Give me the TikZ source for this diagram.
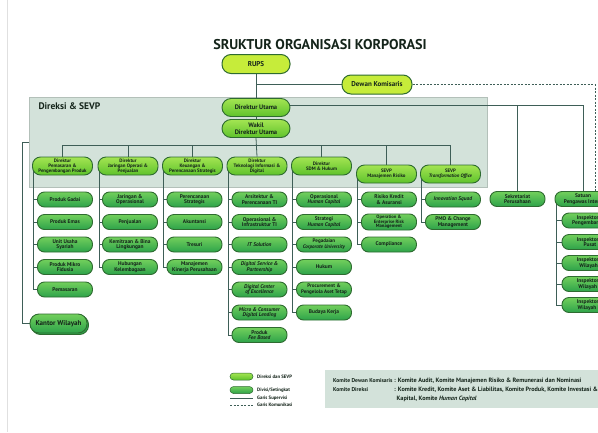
\documentclass[tikz,border=0pt]{standalone}
\usepackage{fontspec}
\setmainfont{PT Sans}
\usetikzlibrary{calc,backgrounds,shadows}
\definecolor{lime}{HTML}{C6EC3A}
\definecolor{dkg}{HTML}{2E6B30}
\definecolor{ln}{HTML}{3E5E57}
\definecolor{boxg}{HTML}{D3E2DA}
\definecolor{dtop}{HTML}{A4E552}
\definecolor{dbot}{HTML}{5EC22C}
\definecolor{utop}{HTML}{72CF5C}
\definecolor{ubot}{HTML}{2DA34A}
\definecolor{txt}{HTML}{14241A}
\tikzset{
 topbox/.style={draw=dkg, line width=1pt, fill=lime, rounded corners=9pt, minimum width=68pt, minimum height=19pt, inner sep=0pt, align=center, text=txt, font=\bfseries\fontsize{7}{7.6}\selectfont},
 dirbox/.style={draw=dkg, line width=0.9pt, top color=dtop, bottom color=dbot, rounded corners=8pt, minimum width=60pt, minimum height=18pt, inner sep=0pt, align=center, text=txt, font=\bfseries\fontsize{4.9}{5.2}\selectfont},
 unitbox/.style={draw=dkg, line width=0.9pt, top color=utop, bottom color=ubot, rounded corners=7pt, minimum width=55pt, minimum height=15pt, inner sep=0pt, align=center, text=txt, font=\bfseries\fontsize{5.4}{5.6}\selectfont},
 conn/.style={draw=ln, line width=0.8pt},
 legtext/.style={anchor=west, inner sep=0pt, text=txt, font=\bfseries\fontsize{4.8}{5}\selectfont},
 komtext/.style={anchor=west, inner sep=0pt, text=txt, font=\bfseries\fontsize{5.6}{6}\selectfont},
 komtext2/.style={komtext, font=\bfseries\fontsize{6.2}{6.6}\selectfont},
}
\begin{document}
\begin{tikzpicture}[x=1pt,y=-1pt]
\useasboundingbox (0,0) rectangle (598,432);
\clip (0,0) rectangle (598,432);
\begin{scope}[on background layer]
\fill[white] (0,0) rectangle (598,432);
\draw[black!12, line width=0.8pt] (7,0) -- (7,432);
\fill[boxg, draw=boxg!85!black, line width=0.4pt] (29,97) rectangle (487,187);
\fill[boxg] (325,370) rectangle (600,408);
\end{scope}

% title
\node[font=\bfseries\fontsize{14.2}{16}\selectfont, text=txt] (title) at (320,45) {SRUKTUR ORGANISASI KORPORASI};
\node[anchor=west, font=\bfseries\fontsize{9.5}{10}\selectfont, text=txt] (dsevp) at (35,106) {Direksi \& SEVP};

% top
\node[topbox] (rups) at (256,64) {RUPS};
\node[topbox, minimum width=70pt] (dk) at (377,84.5) {Dewan Komisaris};
\node[dirbox, minimum width=68pt, minimum height=18pt, rounded corners=9pt, font=\bfseries\fontsize{6.5}{6.8}\selectfont] (du) at (256,107.5) {Direktur Utama};
\node[dirbox, minimum width=68pt, minimum height=18pt, rounded corners=9pt, font=\bfseries\fontsize{6.5}{6.8}\selectfont] (wdu) at (256,128.5) {Wakil\\Direktur Utama};

% directors
\node[dirbox] (d1) at (62.5,166) {Direktur\\Pemasaran \&\\Pengembangan Produk};
\node[dirbox] (d2) at (128,166) {Direktur\\Jaringan Operasi \&\\Penjualan};
\node[dirbox] (d3) at (192.5,166) {Direktur\\Keuangan \&\\Perencanaan Strategis};
\node[dirbox] (d4) at (257,166) {Direktur\\Teknologi Informasi \&\\Digital};
\node[dirbox] (d5) at (321.5,166) {Direktur\\SDM \& Hukum};
\node[dirbox] (d6) at (386.5,174) {SEVP\\Manajemen Risiko};
\node[dirbox] (d7) at (450.5,174) {SEVP\\\textit{Transformation Office}};

% column 1
\node[unitbox] (u11) at (65,199.5) {Produk Gadai};
\node[unitbox] (u12) at (65,222) {Produk Emas};
\node[unitbox] (u13) at (65,244.5) {Unit Usaha\\Syariah};
\node[unitbox] (u14) at (65,267) {Produk Mikro\\Fidusia};
\node[unitbox] (u15) at (65,289.5) {Pemasaran};
% column 2
\node[unitbox] (u21) at (130,199.5) {Jaringan \&\\Operasional};
\node[unitbox] (u22) at (130,222) {Penjualan};
\node[unitbox] (u23) at (130,244.5) {Kemitraan \& Bina\\Lingkungan};
\node[unitbox] (u24) at (130,267) {Hubungan\\Kelembagaan};
% column 3
\node[unitbox] (u31) at (194.5,199.5) {Perencanaan\\Strategis};
\node[unitbox] (u32) at (194.5,222) {Akuntansi};
\node[unitbox] (u33) at (194.5,244.5) {Tresuri};
\node[unitbox] (u34) at (194.5,267) {Manajemen\\Kinerja Perusahaan};
% column 4
\node[unitbox] (u41) at (259.5,199.5) {Arsitektur \&\\Perencanaan TI};
\node[unitbox] (u42) at (259.5,222) {Operasional \&\\Infrastruktur TI};
\node[unitbox] (u43) at (259.5,244.5) {\textit{IT Solution}};
\node[unitbox] (u44) at (259.5,267) {\textit{Digital Service \&}\\\textit{Partnership}};
\node[unitbox] (u45) at (259.5,289.5) {\textit{Digital Center}\\\textit{of Excellence}};
\node[unitbox] (u46) at (259.5,312.5) {\textit{Micro \& Consumer}\\\textit{Digital Lending}};
\node[unitbox] (u47) at (259.5,335) {Produk\\\textit{Fee Based}};
% column 5
\node[unitbox] (u51) at (324,199.5) {Operasional\\\textit{Human Capital}};
\node[unitbox] (u52) at (324,222) {Strategi\\\textit{Human Capital}};
\node[unitbox, font=\bfseries\fontsize{5.1}{5.6}\selectfont] (u53) at (324,244.5) {Pegadaian\\\textit{Corporate University}};
\node[unitbox] (u54) at (324,267) {Hukum};
\node[unitbox, font=\bfseries\fontsize{5.1}{5.6}\selectfont] (u55) at (324,289.5) {Procurement \&\\Pengelola Aset Tetap};
\node[unitbox] (u56) at (324,312.5) {Budaya Kerja};
% column 6
\node[unitbox] (u61) at (389,199.5) {Risiko Kredit\\\& Asuransi};
\node[unitbox, minimum height=16pt, font=\bfseries\fontsize{4.7}{4.8}\selectfont] (u62) at (389,222) {Operation \&\\Enterprise Risk\\Management};
\node[unitbox] (u63) at (389,244.5) {Compliance};
% column 7
\node[unitbox] (u71) at (453,199.5) {\textit{Innovation Squad}};
\node[unitbox] (u72) at (453,222) {PMO \& Change\\Management};

% right side
\node[unitbox] (sek) at (517.5,199) {Sekretariat\\Perusahaan};
\node[unitbox, minimum width=56pt] (spi) at (583,199) {Satuan\\Pengawas Intern};
\node[unitbox, minimum width=56pt] (i1) at (590,220.5) {Inspektorat\\Pengembangan};
\node[unitbox, minimum width=56pt] (i2) at (590,242) {Inspektorat\\Pusat};
\node[unitbox, minimum width=56pt] (i3) at (590,263) {Inspektorat\\Wilayah I};
\node[unitbox, minimum width=56pt] (i4) at (590,284) {Inspektorat\\Wilayah II};
\node[unitbox, minimum width=56pt] (i5) at (590,305) {Inspektorat\\Wilayah III};

% kantor wilayah
\node[unitbox, minimum width=57pt, minimum height=19pt, rounded corners=9pt, font=\bfseries\fontsize{7}{7.2}\selectfont, copy shadow={shadow xshift=1.5pt, shadow yshift=-1.5pt, draw=dkg, fill=ubot}] (kw) at (58.5,323.5) {Kantor Wilayah};

% legend
\node[dirbox, minimum width=23pt, minimum height=7pt, rounded corners=3.5pt, line width=0.5pt] (lg1) at (241.5,376.5) {};
\node[unitbox, minimum width=23pt, minimum height=7pt, rounded corners=3.5pt, line width=0.5pt] (lg2) at (241.5,390) {};
\coordinate (lg3a) at (230,398); \coordinate (lg3b) at (253,398);
\coordinate (lg4a) at (230,405); \coordinate (lg4b) at (253,405);
\node[legtext] (lt1) at (257,376.5) {Direksi dan SEVP};
\node[legtext] (lt2) at (257,390) {Divisi/Setingkat};
\node[legtext] (lt3) at (257,398) {Garis Supervisi};
\node[legtext] (lt4) at (257,405) {Garis Komunikasi};

% komite
\node[komtext] (k1) at (333,381) {Komite Dewan Komisaris};
\node[komtext] (k2) at (333,390) {Komite Direksi};
\node[komtext2] (k3) at (394,381) {: Komite Audit, Komite Manajemen Risiko \& Remunerasi dan Nominasi};
\node[komtext2] (k4) at (394,390) {: Komite Kredit, Komite Aset \& Liabilitas, Komite Produk, Komite Investasi \&};
\node[komtext2] (k5) at (396.5,399) {Kapital, Komite \textit{Human Capital}};

\begin{scope}[on background layer]
\coordinate (bus) at (0,145);
\coordinate (hl) at (0,105);
\draw[conn] (rups.south) -- (du.north);
\draw[conn] (dk.west) -- (dk.west -| rups.south);
\draw[conn, dashed, line width=0.6pt, dash pattern=on 2pt off 1.5pt] (dk.east) -| ([xshift=12pt]spi.north);
\draw[conn] (du.east |- hl) -| (spi.north);
\draw[conn] (sek.north) -- (sek.north |- hl);
\draw[conn] (du.south) -- (wdu.north);
\draw[conn] (wdu.south) -- (d4.north);
\draw[conn] (d1.north) -- (d1.north |- bus) -- (d7.north |- bus) -- (d7.north);
\foreach \d in {d2,d3,d5,d6} \draw[conn] (\d.north) -- (\d.north |- bus);
\foreach \u in {u11,u12,u13,u14,u15} \draw[conn] ([xshift=1.5pt]d1.west) |- (\u.west);
\foreach \u in {u21,u22,u23,u24} \draw[conn] ([xshift=1.5pt]d2.west) |- (\u.west);
\foreach \u in {u31,u32,u33,u34} \draw[conn] ([xshift=1.5pt]d3.west) |- (\u.west);
\foreach \u in {u41,u42,u43,u44,u45,u46,u47} \draw[conn] ([xshift=1.5pt]d4.west) |- (\u.west);
\foreach \u in {u51,u52,u53,u54,u55,u56} \draw[conn] ([xshift=1.5pt]d5.west) |- (\u.west);
\foreach \u in {u61,u62,u63} \draw[conn] ([xshift=1.5pt]d6.west) |- (\u.west);
\foreach \u in {u71,u72} \draw[conn] ([xshift=1.5pt]d7.west) |- (\u.west);
\foreach \u in {i1,i2,i3,i4,i5} \draw[conn] ([xshift=1.5pt]spi.west) |- (\u.west);
\coordinate (kwt) at (29,142);
\draw[conn] (kwt) -- ++(-7,0) |- (kw.west);
\draw[conn] (lg3a) -- (lg3b);
\draw[conn, dashed, line width=0.6pt, dash pattern=on 2pt off 1.5pt] (lg4a) -- (lg4b);
\end{scope}
\end{tikzpicture}
\end{document}
